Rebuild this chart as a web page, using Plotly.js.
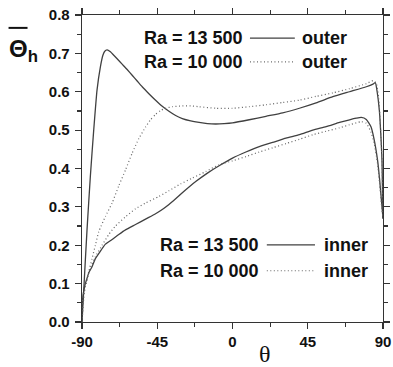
<!DOCTYPE html>
<html><head><meta charset="utf-8">
<script src="https://cdn.plot.ly/plotly-3.0.1.min.js"></script>
<style>html,body{margin:0;padding:0;background:#fff;}#chart{width:393px;height:367px;}</style>
</head><body><div id="chart"></div>
<script>
// Outer, Ra = 13 500 (solid)
const outer13500Theta = [-90, -89, -87, -85, -83, -81, -79, -77.5, -76.5, -75, -73, -71, -69, -66, -63, -60, -57, -54, -50, -46, -42, -38, -34, -30, -25, -20, -15, -10, -5, 0, 10, 20, 30, 40, 50, 60, 70, 80, 84, 85.4, 86.5, 87.8, 88.8, 89.4, 90];
const outer13500Val   = [0, 0.08, 0.24, 0.38, 0.5, 0.605, 0.665, 0.695, 0.705, 0.709, 0.704, 0.695, 0.686, 0.672, 0.658, 0.643, 0.628, 0.613, 0.595, 0.578, 0.562, 0.549, 0.538, 0.53, 0.524, 0.52, 0.517, 0.516, 0.517, 0.519, 0.527, 0.536, 0.545, 0.557, 0.571, 0.587, 0.6, 0.613, 0.62, 0.624, 0.6, 0.552, 0.48, 0.42, 0.27];
// Outer, Ra = 10 000 (dotted)
const outer10000Theta = [-90, -89, -88, -86, -84, -82, -80, -76, -72, -68, -64, -60, -56, -52, -49, -46, -43, -40, -36, -30, -25, -20, -10, 0, 10, 20, 30, 40, 50, 60, 70, 80, 84.2, 86, 87.5, 88.8, 89.4, 90];
const outer10000Val   = [0, 0.06, 0.092, 0.13, 0.165, 0.2, 0.235, 0.275, 0.31, 0.355, 0.396, 0.44, 0.478, 0.508, 0.527, 0.541, 0.551, 0.557, 0.561, 0.563, 0.563, 0.561, 0.557, 0.557, 0.561, 0.566, 0.572, 0.578, 0.588, 0.597, 0.608, 0.621, 0.629, 0.622, 0.58, 0.48, 0.42, 0.27];
// Inner, Ra = 13 500 (solid)
const inner13500Theta = [-90, -89.6, -89, -88, -87, -86, -84, -82, -80, -76, -72, -68, -64, -58, -52, -46, -42, -38, -34, -30, -26, -22, -15, -8, 0, 8, 16, 24, 32, 40, 48, 56, 64, 70, 74, 77, 80, 82.8, 84.5, 86.8, 88, 89, 90];
const inner13500Val   = [0, 0.06, 0.08, 0.1, 0.114, 0.128, 0.144, 0.165, 0.178, 0.203, 0.215, 0.228, 0.24, 0.254, 0.268, 0.282, 0.293, 0.306, 0.321, 0.337, 0.352, 0.366, 0.388, 0.407, 0.427, 0.443, 0.457, 0.468, 0.479, 0.488, 0.5, 0.509, 0.52, 0.527, 0.531, 0.533, 0.528, 0.509, 0.48, 0.42, 0.37, 0.32, 0.27];
// Inner, Ra = 10 000 (dotted)
const inner10000Theta = [-90, -89.6, -89, -88, -86, -84, -82, -78, -74, -70, -64, -58, -52, -44, -38, -31, -24, -16, -8, 0, 8, 16, 24, 32, 40, 48, 56, 64, 70, 74, 77, 80, 82.8, 84.5, 86.5, 88, 89, 90];
const inner10000Val   = [0, 0.06, 0.075, 0.092, 0.127, 0.15, 0.17, 0.2, 0.228, 0.25, 0.274, 0.295, 0.31, 0.327, 0.342, 0.36, 0.375, 0.392, 0.41, 0.42, 0.431, 0.443, 0.454, 0.465, 0.476, 0.488, 0.497, 0.506, 0.514, 0.519, 0.522, 0.518, 0.495, 0.47, 0.42, 0.36, 0.31, 0.27];

const xTickVals = [-90, -45, 0, 45, 90];
const xTickText = ['-90', '-45', '0', '45', '90'];
const yTickVals = [0, 0.1, 0.2, 0.3, 0.4, 0.5, 0.6, 0.7, 0.8];
const yTickText = ['0.0', '0.1', '0.2', '0.3', '0.4', '0.5', '0.6', '0.7', '0.8'];

const solid = {color: '#404040', width: 1.3, dash: 'solid'};
const dotted = {color: '#666666', width: 1.2, dash: '1px,2.5px'};

const traces = [
  {x: outer13500Theta, y: outer13500Val, mode: 'lines', line: Object.assign({shape: 'spline', smoothing: 0.5}, solid)},
  {x: outer10000Theta, y: outer10000Val, mode: 'lines', line: Object.assign({shape: 'spline', smoothing: 0.5}, dotted)},
  {x: inner13500Theta, y: inner13500Val, mode: 'lines', line: Object.assign({shape: 'spline', smoothing: 0.5}, solid)},
  {x: inner10000Theta, y: inner10000Val, mode: 'lines', line: Object.assign({shape: 'spline', smoothing: 0.5}, dotted)}
];

const bold = s => '<b>' + s + '</b>';
const tickFont = {family: 'Liberation Sans, Arial, sans-serif', size: 15, color: '#111'};
const legFont = {family: 'Liberation Sans, Arial, sans-serif', size: 18, color: '#111'};

function ann(text, x, y, xanchor) {
  return {text: bold(text), x: x, y: y, xref: 'paper', yref: 'paper', xanchor: xanchor, yanchor: 'middle', showarrow: false, font: legFont};
}
function sample(x0, x1, y, ln) {
  return {type: 'line', xref: 'paper', yref: 'paper', x0: x0, x1: x1, y0: y, y1: y, line: {color: ln.color, width: ln.width, dash: ln.dash}};
}

const layout = {
  width: 393, height: 367,
  margin: {l: 82, r: 10, t: 15, b: 45},
  paper_bgcolor: '#fff', plot_bgcolor: '#fff',
  showlegend: false,
  xaxis: {
    range: [-90, 90], tickvals: xTickVals, ticktext: xTickText.map(bold),
    ticks: 'outside', ticklen: 6, tickwidth: 1.2, tickcolor: '#333',
    showline: true, linecolor: '#333', linewidth: 1.3, mirror: 'ticks',
    showgrid: false, zeroline: false,
    tickfont: tickFont,
    minor: {dtick: 22.5, tick0: -90, ticks: 'outside', ticklen: 4, tickcolor: '#333', showgrid: false}
  },
  yaxis: {
    range: [0, 0.8], tickvals: yTickVals, ticktext: yTickText.map(bold),
    ticks: 'outside', ticklen: 6, tickwidth: 1.2, tickcolor: '#333',
    showline: true, linecolor: '#333', linewidth: 1.3, mirror: 'ticks',
    showgrid: false, zeroline: false, ticklabelstandoff: 2,
    tickfont: tickFont,
    minor: {dtick: 0.05, tick0: 0, ticks: 'outside', ticklen: 4, tickcolor: '#333', showgrid: false}
  },
  annotations: [
    ann('Ra = 13 500', 0.541, 0.925, 'right'),
    ann('outer', 0.724, 0.925, 'left'),
    ann('Ra = 10 000', 0.541, 0.847, 'right'),
    ann('outer', 0.724, 0.847, 'left'),
    ann('Ra = 13 500', 0.595, 0.251, 'right'),
    ann('inner', 0.797, 0.251, 'left'),
    ann('Ra = 10 000', 0.595, 0.167, 'right'),
    ann('inner', 0.797, 0.167, 'left'),
    {text: '<b>Θ<sub>h</sub></b>', x: -0.25, y: 0.885, xref: 'paper', yref: 'paper', xanchor: 'left', yanchor: 'middle', showarrow: false,
     font: {family: 'Liberation Sans, Arial, sans-serif', size: 24, color: '#111'}},
    {text: 'θ', x: 0.608, y: -0.103, xref: 'paper', yref: 'paper', xanchor: 'center', yanchor: 'middle', showarrow: false,
     font: {family: 'Liberation Serif, Times New Roman, serif', size: 24, color: '#111'}}
  ],
  shapes: [
    sample(0.558, 0.707, 0.925, solid),
    sample(0.558, 0.707, 0.847, dotted),
    sample(0.614, 0.774, 0.251, solid),
    sample(0.614, 0.774, 0.167, dotted),
    {type: 'line', xref: 'paper', yref: 'paper', x0: -0.244, x1: -0.181, y0: 0.958, y1: 0.958, line: {color: '#111', width: 2}}
  ]
};

Plotly.newPlot('chart', traces, layout, {displayModeBar: false, staticPlot: true});
</script></body></html>
